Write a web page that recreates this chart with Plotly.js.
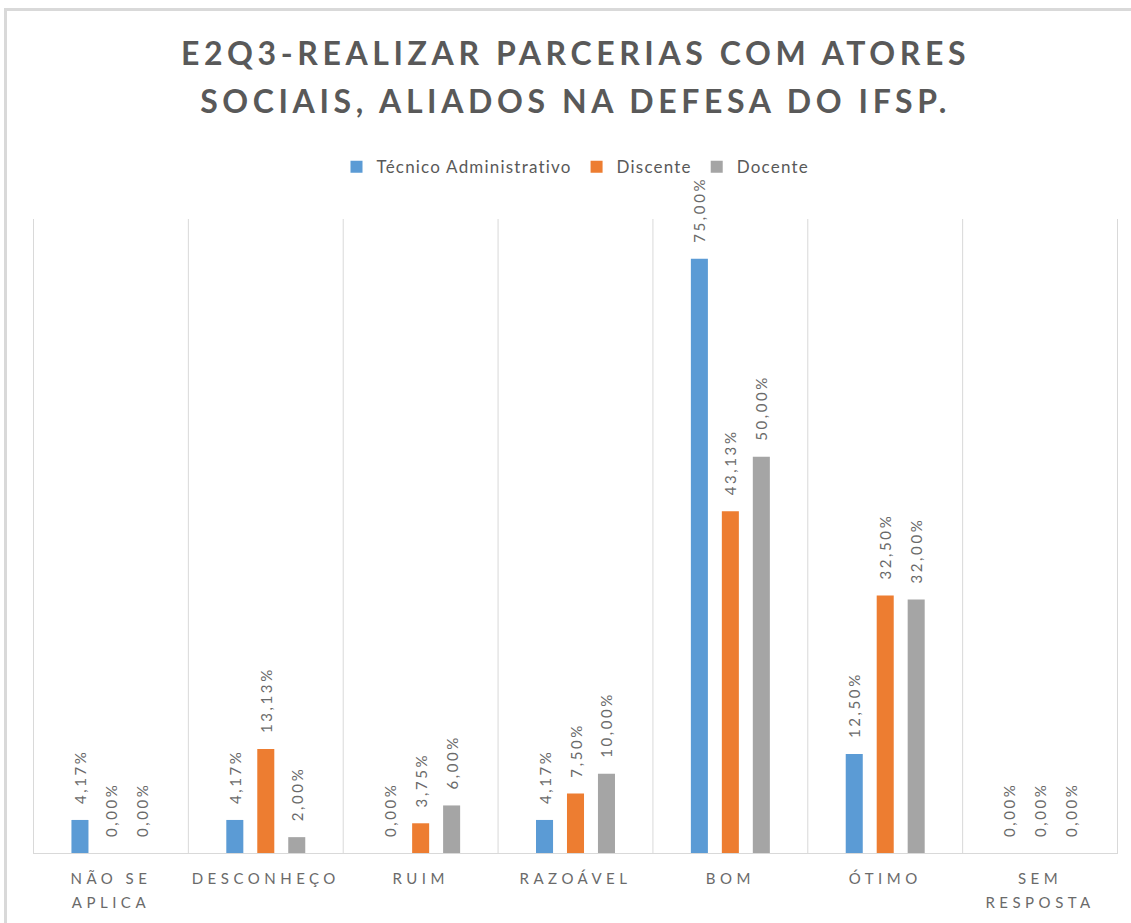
<!DOCTYPE html>
<html><head><meta charset="utf-8">
<script src="https://cdn.plot.ly/plotly-3.0.1.min.js"></script>
<style>
body{margin:0;background:#fff}
#chart{width:1131px;height:923px;position:absolute;left:0;top:0}
#frame{position:absolute;left:4px;top:8px;right:0;bottom:0;border-left:3px solid #d9d9d9;border-top:3px solid #d9d9d9;pointer-events:none}
.gtitle{letter-spacing:4.6px}
.xtick text{letter-spacing:4.5px}
text.bartext{letter-spacing:2.6px}
.legendtext{letter-spacing:1.2px}
</style></head><body>
<div id="chart"></div><div id="frame"></div>
<script>
const categories = ["NÃO SE<br>APLICA", "DESCONHEÇO", "RUIM", "RAZOÁVEL", "BOM", "ÓTIMO", "SEM<br>RESPOSTA"];
const tecnicoAdministrativo = [4.17, 4.17, 0.00, 4.17, 75.00, 12.50, 0.00];
const discente = [0.00, 13.13, 3.75, 7.50, 43.13, 32.50, 0.00];
const docente = [0.00, 2.00, 6.00, 10.00, 50.00, 32.00, 0.00];
const seriesNames = ["Técnico Administrativo", "Discente", "Docente"];
const seriesColors = ["#5B9BD5", "#ED7D31", "#A5A5A5"];
const titleText = "E2Q3-REALIZAR PARCERIAS COM ATORES<br>SOCIAIS, ALIADOS NA DEFESA DO IFSP.";

const fmt = v => "\u00A0\u00A0" + v.toFixed(2).replace(".", ",") + "%";
const seriesValues = [tecnicoAdministrativo, discente, docente];

const traces = seriesValues.map((vals, i) => ({
  type: "bar",
  name: seriesNames[i],
  x: categories,
  y: vals,
  text: vals.map(fmt),
  textposition: "outside",
  textangle: -90,
  constraintext: "none",
  cliponaxis: false,
  textfont: {family: "Lato, 'Open Sans', sans-serif", size: 15, color: "#6a6a6a"},
  marker: {color: seriesColors[i]},
  hoverinfo: "skip"
}));

const shapes = [];
for (let i = 0; i <= categories.length; i++) {
  shapes.push({type: "line", xref: "x", yref: "paper", x0: i - 0.5, x1: i - 0.5, y0: 0, y1: 1,
    line: {color: "#d9d9d9", width: 1}, layer: "below"});
}

const layout = {
  width: 1131, height: 923,
  margin: {l: 33, r: 13, t: 219, b: 70},
  paper_bgcolor: "#ffffff", plot_bgcolor: "#ffffff",
  title: {text: titleText, x: 0.5, xref: "paper", y: 1 - 65/923, yref: "container", yanchor: "top",
    font: {family: "Lato, 'Open Sans', sans-serif", size: 32, weight: 700, color: "#595959"}},
  showlegend: true,
  legend: {orientation: "h", x: 0.5, xanchor: "center", y: 1.11, yanchor: "top",
    bgcolor: "rgba(0,0,0,0)",
    font: {family: "Lato, 'Open Sans', sans-serif", size: 17, color: "#595959"},
    itemwidth: 30, traceorder: "normal"},
  bargap: 0.4, bargroupgap: 0.45,
  xaxis: {type: "category", showgrid: false, showline: true, linecolor: "#d9d9d9", linewidth: 1,
    ticks: "", ticklabelstandoff: 12,
    tickfont: {family: "Lato, 'Open Sans', sans-serif", size: 15, color: "#6a6a6a"},
    fixedrange: true},
  yaxis: {range: [0, 80], visible: false, fixedrange: true},
  shapes: shapes
};

Plotly.newPlot("chart", traces, layout, {displayModeBar: false, staticPlot: true}).then(() => {
  document.querySelectorAll(".gtitle tspan.line").forEach((t, i) => { if (i > 0) t.setAttribute("dy", "1.5em"); });
  document.querySelectorAll(".xtick text tspan.line").forEach(t => { if (t.getAttribute("dy") && t.getAttribute("dy") !== "0em") t.setAttribute("dy", "1.6em"); });
});
</script>
</body></html>
